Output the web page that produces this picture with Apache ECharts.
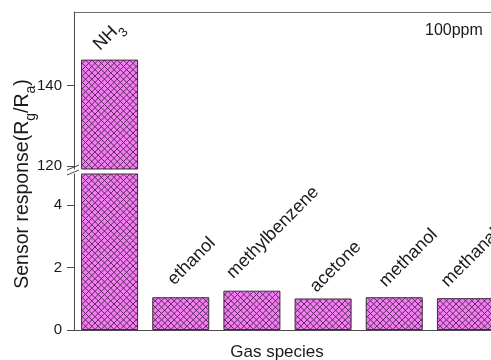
<!DOCTYPE html>
<html>
<head>
<meta charset="utf-8">
<script src="https://cdn.jsdelivr.net/npm/echarts@6/dist/echarts.min.js"></script>
<style>
  html, body { margin: 0; padding: 0; background: #ffffff; }
  #chart { width: 491px; height: 360px; }
</style>
</head>
<body>
<div id="chart"></div>
<script>
// Gas species and their sensor responses (Rg/Ra) at 100 ppm
const gases = ['NH3', 'ethanol', 'methylbenzene', 'acetone', 'methanol', 'methanal'];
const response = [146.4, 1.05, 1.26, 1.01, 1.05, 1.02];

// Broken value axis: a low segment and a high segment
const lowerRange = [0, 5];
const upperRange = [119.3, 158.2];
const lowerMajorTicks = [0, 2, 4];
const lowerMinorTicks = [1, 3];
const upperMajorTicks = [120, 140];
const upperMinorTicks = [130, 150];
const concentration = '100ppm';

// Layout (px)
const LEFT = 74, PLOT_W = 427;
const UP_TOP = 12, UP_H = 157;
const LO_TOP = 174, LO_H = 156;
const BAR_W = 57;
const FONT = '"Liberation Sans", Arial, sans-serif';
const INK = '#1a1a1a';
const AXIS = '#4a4a4a';

// Where each slanted name sits, relative to the top centre of its bar
const labelShift = [[-12, -11], [-9, -14], [-21, -14], [-9, -8], [-11, -12], [-20, -13]];

// Cross-hatched fill used for every bar
function hatchTile() {
  const n = 19, c = document.createElement('canvas');
  c.width = c.height = n;
  const g = c.getContext('2d');
  g.fillStyle = '#f27ef2';
  g.fillRect(0, 0, n, n);
  g.strokeStyle = '#552455';
  g.lineWidth = 0.95;
  const step = n / 3;
  g.beginPath();
  for (let k = -3; k <= 6; k++) {
    const o = k * step;
    g.moveTo(o, 0); g.lineTo(o + n, n);
    g.moveTo(o, n); g.lineTo(o + n, 0);
  }
  g.stroke();
  return c;
}
const hatchFill = { image: hatchTile(), repeat: 'repeat' };

const richText = {
  m: { fontSize: 18, lineHeight: 21, verticalAlign: 'top', color: INK, fontFamily: FONT },
  s: { fontSize: 13, lineHeight: 13, padding: [11, 0, 0, 0], verticalAlign: 'top', color: INK, fontFamily: FONT }
};

function gasLabel(name) {
  const m = name.match(/^([A-Za-z]+)(\d+)$/);
  return m ? '{m|' + m[1] + '}{s|' + m[2] + '}' : '{m|' + name + '}';
}

function labelFor(i, show) {
  const s = labelShift[i];
  return {
    show: show,
    position: [BAR_W / 2 + s[0], s[1]],
    rotate: 45,
    align: 'left',
    verticalAlign: 'middle',
    formatter: p => gasLabel(p.name),
    rich: richText
  };
}

const barStyle = { color: hatchFill, borderColor: '#3b2b3b', borderWidth: 1 };

function valueAxis(gridIndex, range, major, minor, isMinor) {
  return {
    type: 'value',
    gridIndex: gridIndex,
    min: range[0],
    max: range[1],
    axisLine: { show: !isMinor, lineStyle: { color: AXIS, width: 1 } },
    axisTick: {
      show: true, inside: false,
      length: isMinor ? 4 : 7,
      customValues: isMinor ? minor : major,
      lineStyle: { color: AXIS, width: 1 }
    },
    axisLabel: {
      show: !isMinor,
      customValues: major,
      margin: 12,
      fontSize: 15,
      color: INK,
      fontFamily: FONT
    },
    splitLine: { show: false }
  };
}

const chart = echarts.init(document.getElementById('chart'), null, { renderer: 'canvas' });

const breakY1 = UP_TOP + UP_H;
const breakY2 = LO_TOP;

chart.setOption({
  animation: false,
  backgroundColor: '#ffffff',
  grid: [
    { left: LEFT, width: PLOT_W, top: UP_TOP, height: UP_H, outerBoundsMode: 'none', containLabel: false },
    { left: LEFT, width: PLOT_W, top: LO_TOP, height: LO_H, outerBoundsMode: 'none', containLabel: false }
  ],
  xAxis: [
    {
      type: 'category', gridIndex: 0, data: gases, position: 'top',
      axisLine: { show: true, lineStyle: { color: '#6e6e6e', width: 1 } },
      axisTick: { show: false }, axisLabel: { show: false }
    },
    {
      type: 'category', gridIndex: 1, data: gases, position: 'bottom',
      axisLine: { show: true, lineStyle: { color: AXIS, width: 1 } },
      axisTick: { show: false }, axisLabel: { show: false }
    }
  ],
  yAxis: [
    valueAxis(0, upperRange, upperMajorTicks, upperMinorTicks, false),
    valueAxis(0, upperRange, upperMajorTicks, upperMinorTicks, true),
    valueAxis(1, lowerRange, lowerMajorTicks, lowerMinorTicks, false),
    valueAxis(1, lowerRange, lowerMajorTicks, lowerMinorTicks, true)
  ],
  series: [
    {
      type: 'bar', xAxisIndex: 0, yAxisIndex: 0, barWidth: BAR_W, clip: true,
      itemStyle: barStyle,
      data: response.map((v, i) => v >= upperRange[0]
        ? { value: v, label: labelFor(i, true) }
        : '-')
    },
    {
      type: 'bar', xAxisIndex: 1, yAxisIndex: 2, barWidth: BAR_W, clip: true,
      itemStyle: barStyle,
      data: response.map((v, i) => ({ value: v, label: labelFor(i, v <= lowerRange[1]) }))
    }
  ],
  graphic: [
    {
      type: 'text', x: 24, y: 184, rotation: Math.PI / 2,
      style: {
        text: '{m|Sensor response(R}{s|g}{m|/R}{s|a}{m|)}',
        align: 'center', verticalAlign: 'middle',
        rich: {
          m: { fontSize: 19.5, lineHeight: 23, verticalAlign: 'top', fill: INK, fontFamily: FONT },
          s: { fontSize: 14, lineHeight: 14, padding: [12, 0, 0, 0], verticalAlign: 'top', fill: INK, fontFamily: FONT }
        }
      }
    },
    {
      type: 'text', x: LEFT + 203, y: 352,
      style: { text: 'Gas species', align: 'center', verticalAlign: 'middle', fontSize: 17, fill: INK, fontFamily: FONT }
    },
    {
      type: 'text', x: 425, y: 31,
      style: { text: concentration, align: 'left', verticalAlign: 'middle', fontSize: 16, fill: INK, fontFamily: FONT }
    },
    {
      type: 'group',
      children: [
        { type: 'line', shape: { x1: LEFT - 7, y1: breakY1 + 1, x2: LEFT + 5, y2: breakY1 - 4 }, style: { stroke: AXIS, lineWidth: 1 } },
        { type: 'line', shape: { x1: LEFT - 7, y1: breakY2 + 1, x2: LEFT + 5, y2: breakY2 - 4 }, style: { stroke: AXIS, lineWidth: 1 } }
      ]
    }
  ]
});
</script>
</body>
</html>
